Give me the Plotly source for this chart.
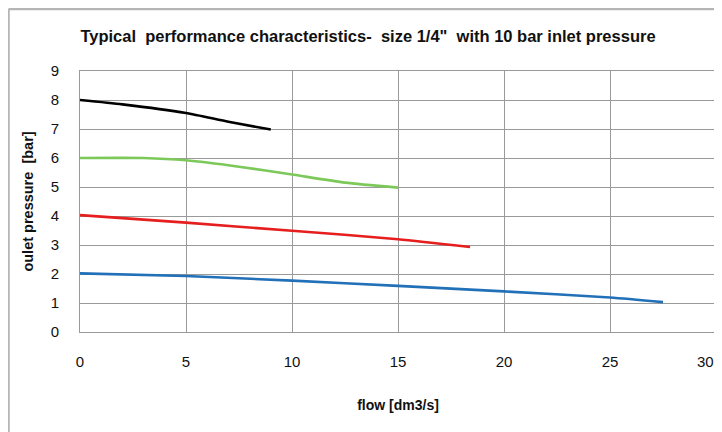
import plotly.graph_objects as go

# data
black_x = [0, 2, 5, 7, 9]
black_y = [8.0, 7.85, 7.55, 7.25, 6.98]
green_x = [0, 3, 5, 7.5, 10, 12.5, 15]
green_y = [6.0, 6.0, 5.92, 5.7, 5.43, 5.15, 4.98]
red_x = [0, 5, 10, 15, 18.4]
red_y = [4.03, 3.77, 3.49, 3.2, 2.93]
blue_x = [0, 5, 10, 15, 20, 25, 27.5]
blue_y = [2.02, 1.93, 1.77, 1.59, 1.40, 1.19, 1.03]

x_ticks = [0, 5, 10, 15, 20, 25, 30]
x_labels = ["0", "5", "10", "15", "20", "25", ""]
last_x_label = "30"
y_ticks = [0, 1, 2, 3, 4, 5, 6, 7, 8, 9]

FONT = "Liberation Sans"
fig = go.Figure()
for xs, ys, col in [(black_x, black_y, "#000000"), (green_x, green_y, "#7cc95a"),
                    (red_x, red_y, "#e61e1e"), (blue_x, blue_y, "#2170b8")]:
    fig.add_trace(go.Scatter(x=xs, y=ys, mode="lines", line=dict(color=col, width=2.6, shape="spline", smoothing=0.6),
                             showlegend=False, hoverinfo="skip", cliponaxis=False))

tick_font = dict(family=FONT, size=15, color="#111111")
axis_common = dict(showgrid=True, gridcolor="#9a9a9a", gridwidth=1, showline=True, linecolor="#9a9a9a",
                   linewidth=1, mirror=True, zeroline=False, ticks="", automargin=False,
                   tickfont=tick_font)
fig.update_xaxes(range=[0, 30], tickvals=x_ticks, ticktext=x_labels, ticklabelstandoff=16,
                 title=dict(text="<b>flow [dm3/s]</b>", font=dict(family=FONT, size=14, color="#111111"), standoff=31),
                 **axis_common)
fig.update_yaxes(range=[0, 9], tickvals=y_ticks, ticklabelstandoff=17,
                 title=dict(text="<b>oulet pressure  [bar]</b>", font=dict(family=FONT, size=14.5, color="#111111"), standoff=13),
                 **axis_common)

# last x tick label kept fully inside the window
fig.add_annotation(x=x_ticks[-1], xref="x", y=-0.112, yref="paper", text=last_x_label, showarrow=False,
                   xanchor="right", yanchor="middle", font=tick_font)

fig.update_layout(
    width=722, height=432,
    margin=dict(l=72, r=14, t=63, b=108),
    paper_bgcolor="white", plot_bgcolor="white",
    title=dict(text="<b>Typical  performance characteristics-  size 1/4\"  with 10 bar inlet pressure</b>",
               x=0.4986, xanchor="center", y=0.935, yanchor="middle",
               font=dict(family=FONT, size=16.5, color="#111111")),
    shapes=[
        dict(type="line", xref="paper", yref="paper", x0=-0.1124, x1=1.05, y0=1.2375, y1=1.2375,
             line=dict(color="#b5b5b5", width=2.5)),
        dict(type="line", xref="paper", yref="paper", x0=-0.1124, x1=-0.1124, y0=1.2375, y1=-0.45,
             line=dict(color="#b5b5b5", width=2.5)),
    ],
)
fig.write_html("out.html")
